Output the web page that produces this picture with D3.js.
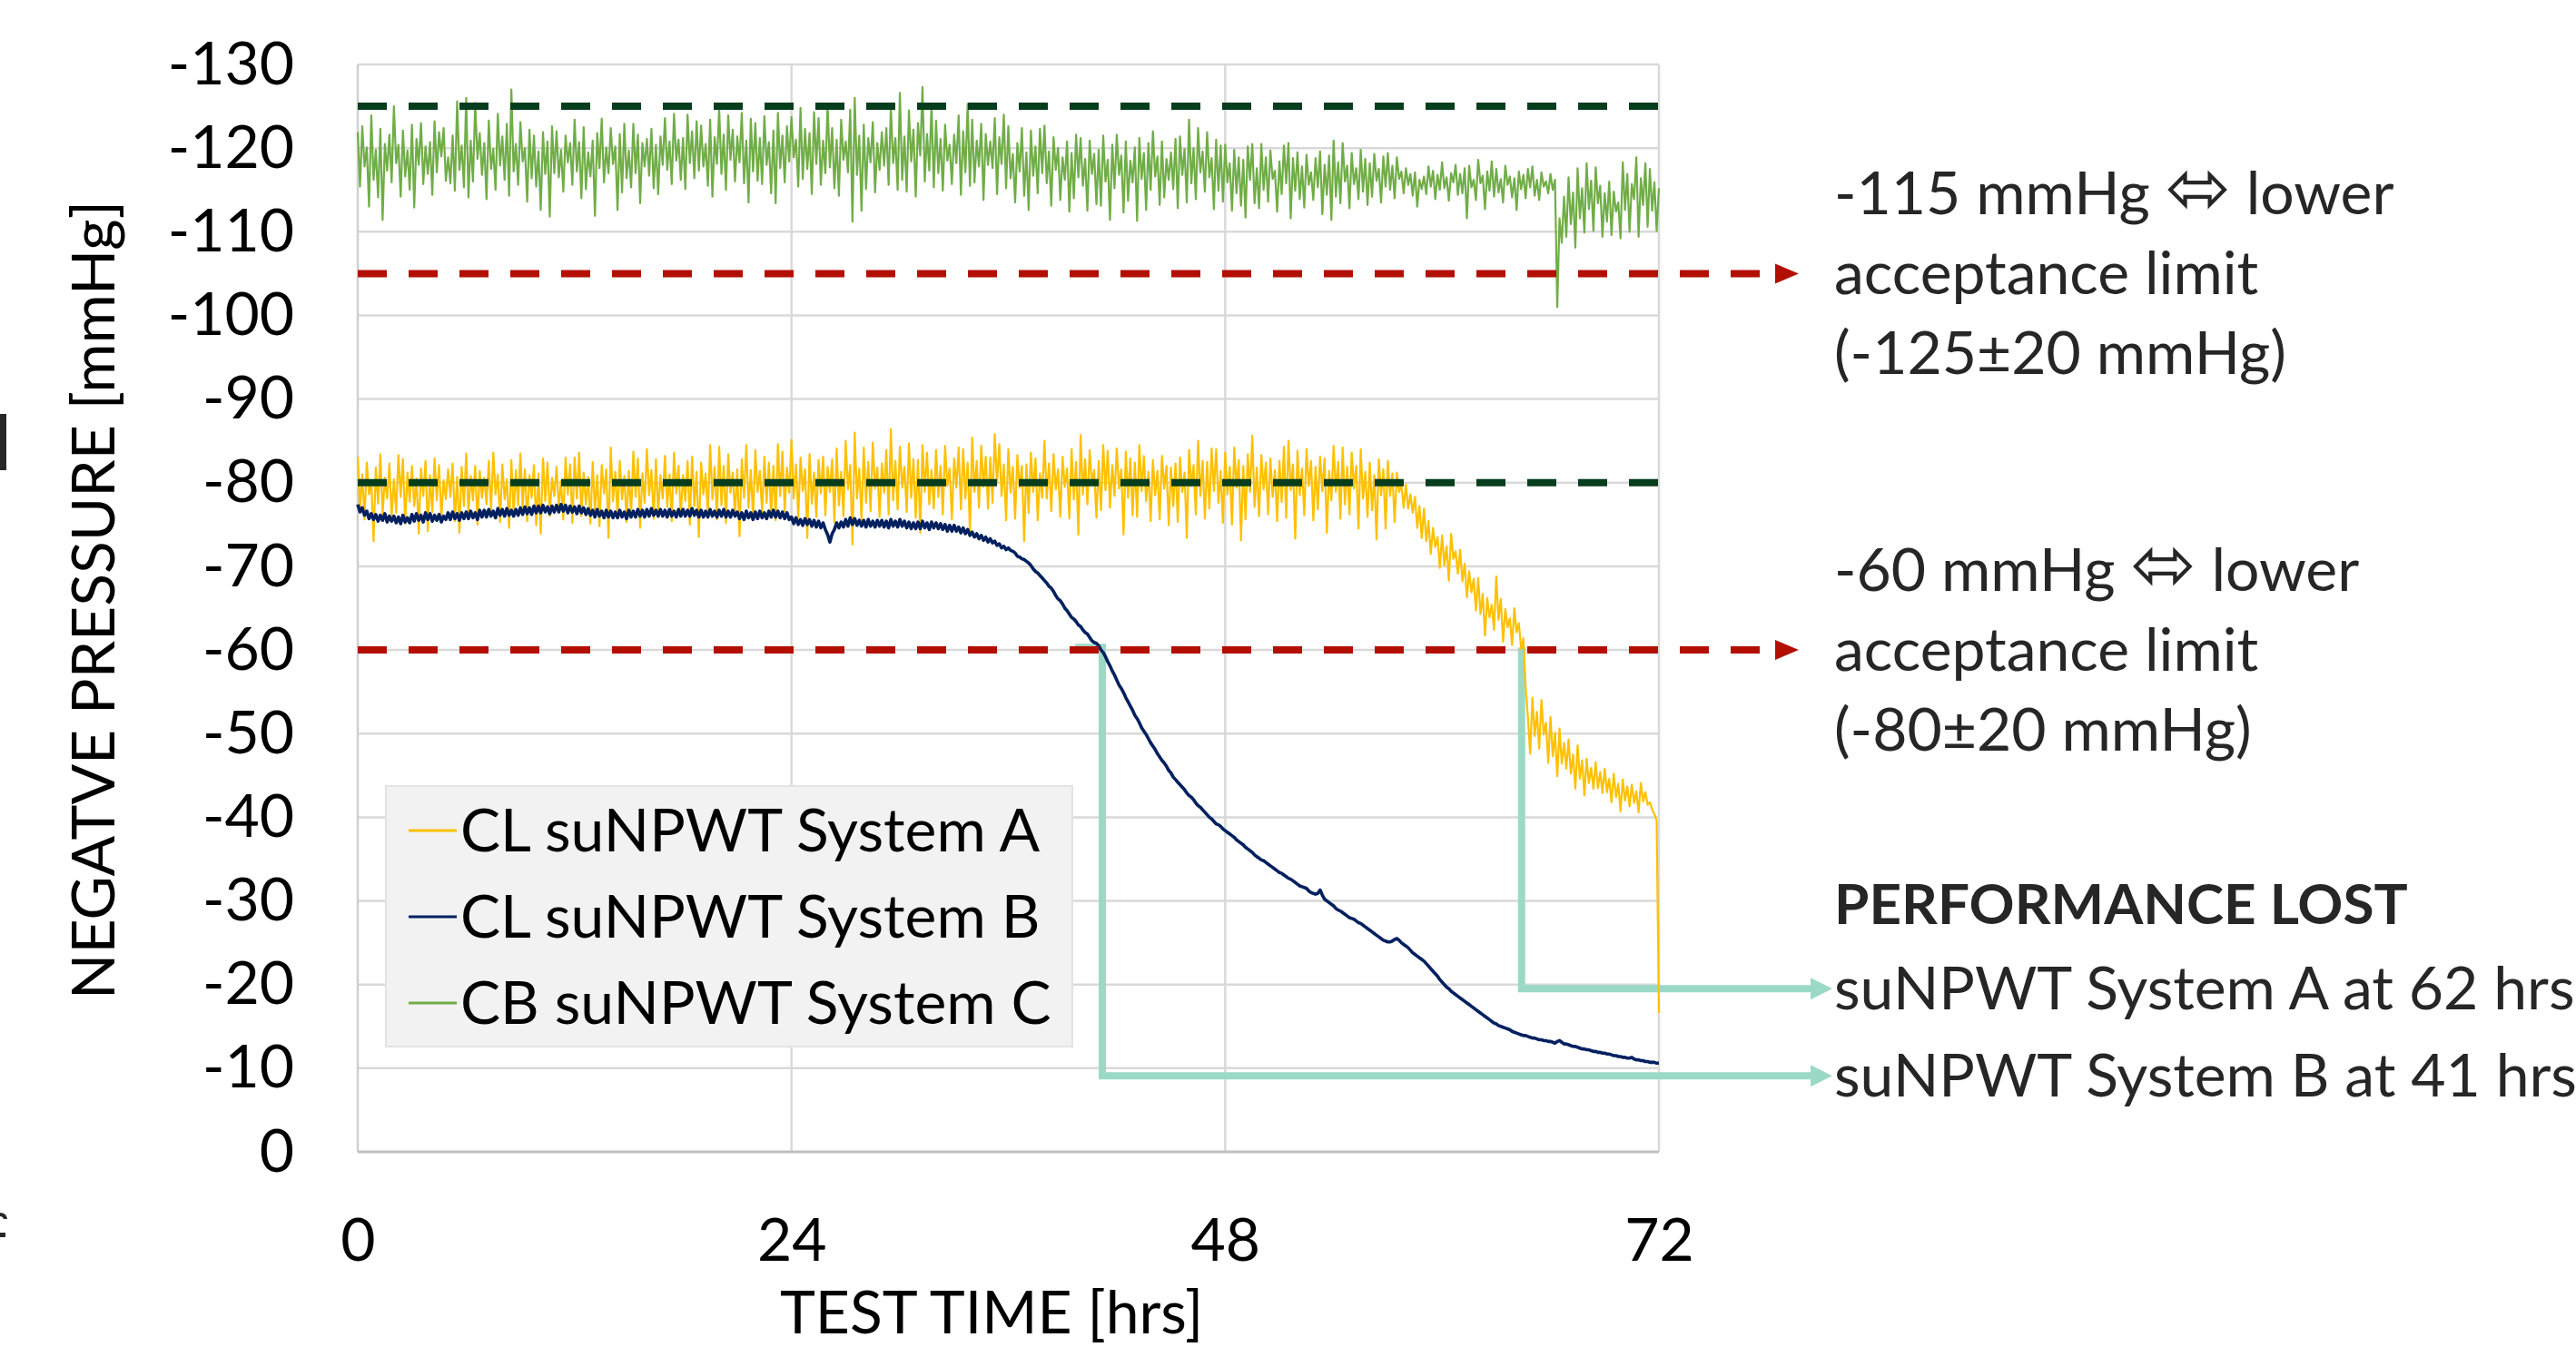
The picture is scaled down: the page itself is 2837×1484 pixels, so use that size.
<!DOCTYPE html>
<html lang="en">
<head>
<meta charset="UTF-8" />
<title>Negative pressure over test time</title>
<style>
  html, body { margin: 0; padding: 0; background: #fff; }
  svg { display: block; font-family: Lato, "Noto Sans", sans-serif; }
</style>
</head>
<body>
<div id="chart"></div>
<script src="https://cdn.jsdelivr.net/npm/d3@7"></script>
<script>
const width = 2837;
const height = 1484;

// logger interval of the three traces, in hours
const stepHours = 0.125;

const xTicks = [0, 24, 48, 72];
const yTicks = [0, -10, -20, -30, -40, -50, -60, -70, -80, -90, -100, -110, -120, -130];

const seriesNames = ["CL suNPWT System A", "CL suNPWT System B", "CB suNPWT System C"];

// set points (dark green) and lower acceptance limits (red), mmHg
const setPoints = [-125, -80];
const lowerLimits = [-105, -60];

// CL suNPWT System A, mmHg, one value every stepHours from 0 to 72 h (one row per hour)
const systemA = [
  -83.1,-76.9,-81.0,-75.6,-82.4,-78.6,-80.2,-73.0,
  -81.8,-77.5,-83.4,-76.2,-80.6,-78.1,-82.3,-75.9,
  -80.4,-76.4,-83.3,-78.3,-82.8,-75.1,-81.2,-77.7,
  -82.0,-77.2,-80.5,-73.9,-81.7,-78.4,-82.6,-74.2,
  -80.9,-76.5,-82.9,-77.9,-82.1,-75.8,-80.3,-78.0,
  -81.6,-78.3,-82.3,-75.4,-80.7,-74.0,-81.9,-77.2,
  -83.5,-76.3,-80.8,-77.9,-82.0,-75.0,-81.4,-78.2,
  -80.6,-77.4,-82.6,-76.7,-83.6,-78.6,-81.0,-75.3,
  -82.2,-78.0,-80.4,-74.6,-82.7,-76.1,-81.5,-77.3,
  -83.5,-77.1,-81.6,-75.4,-80.9,-78.2,-82.1,-74.9,
  -81.1,-73.9,-82.9,-77.8,-82.4,-76.0,-80.6,-78.4,
  -81.9,-77.0,-80.2,-75.6,-83.0,-78.6,-82.2,-75.2,
  -83.0,-78.1,-83.6,-76.0,-81.2,-77.4,-80.7,-75.1,
  -82.5,-76.6,-80.9,-74.8,-82.1,-78.7,-81.6,-73.4,
  -84.2,-77.8,-81.3,-75.9,-82.6,-78.0,-80.8,-75.3,
  -81.4,-76.1,-83.7,-78.3,-82.9,-74.6,-81.1,-77.6,
  -84.0,-78.5,-81.5,-75.7,-82.8,-76.3,-80.9,-78.1,
  -83.2,-77.1,-81.0,-75.4,-83.6,-78.7,-82.0,-76.0,
  -80.9,-77.8,-82.6,-75.0,-83.1,-77.2,-81.3,-73.5,
  -82.4,-78.6,-81.1,-76.2,-84.5,-78.0,-81.9,-75.6,
  -84.3,-77.3,-82.0,-75.2,-83.4,-78.8,-81.2,-76.0,
  -81.6,-73.6,-82.8,-78.2,-84.5,-77.0,-81.5,-75.7,
  -83.9,-78.9,-81.4,-76.4,-83.1,-77.6,-82.4,-75.9,
  -82.0,-75.5,-84.6,-78.4,-83.7,-76.6,-81.8,-78.8,
  -85.1,-78.1,-82.2,-75.8,-83.0,-79.0,-81.6,-73.4,
  -83.4,-77.5,-81.2,-75.9,-82.7,-78.7,-83.1,-76.1,
  -81.9,-78.9,-82.8,-75.3,-84.1,-77.3,-81.3,-76.0,
  -85.0,-79.2,-82.1,-72.6,-86.0,-78.1,-81.7,-75.5,
  -84.2,-77.6,-82.5,-76.6,-84.8,-79.3,-81.8,-75.9,
  -82.3,-78.8,-83.9,-76.2,-86.4,-77.9,-82.6,-76.8,
  -84.3,-79.4,-81.9,-76.5,-84.7,-78.2,-82.8,-75.8,
  -82.7,-74.0,-84.5,-78.9,-83.6,-77.4,-81.5,-76.9,
  -83.9,-78.3,-82.0,-76.2,-84.4,-79.6,-81.7,-75.6,
  -82.9,-79.4,-84.2,-76.8,-84.0,-78.1,-82.4,-74.0,
  -85.4,-78.9,-82.6,-77.0,-84.4,-79.5,-83.1,-76.9,
  -83.0,-77.6,-85.8,-79.9,-84.6,-78.4,-82.2,-75.5,
  -84.0,-78.8,-81.9,-75.7,-83.3,-79.4,-82.0,-73.0,
  -82.2,-76.4,-83.6,-78.9,-82.9,-75.5,-81.1,-78.2,
  -85.0,-78.1,-82.3,-76.6,-83.4,-79.2,-81.6,-75.9,
  -83.1,-79.5,-81.7,-75.7,-84.0,-78.0,-82.5,-73.8,
  -85.7,-78.6,-82.8,-77.4,-83.9,-79.8,-81.5,-75.8,
  -82.6,-76.7,-84.5,-79.1,-83.8,-77.0,-82.1,-78.4,
  -84.1,-79.3,-81.6,-73.8,-83.7,-78.2,-82.9,-76.1,
  -82.4,-75.9,-84.5,-79.0,-83.2,-77.8,-81.3,-75.4,
  -82.7,-78.5,-81.4,-75.6,-83.2,-79.3,-82.0,-74.9,
  -81.8,-77.2,-82.3,-75.3,-83.0,-78.9,-81.2,-73.4,
  -83.9,-79.6,-82.1,-76.2,-85.0,-78.4,-82.6,-75.7,
  -82.5,-76.9,-84.1,-79.0,-84.0,-77.6,-81.4,-75.2,
  -83.6,-78.6,-81.9,-75.0,-84.2,-79.4,-82.7,-73.1,
  -82.0,-75.6,-83.4,-78.9,-85.6,-77.1,-81.8,-76.0,
  -83.3,-79.2,-82.4,-76.2,-82.9,-78.3,-81.5,-75.4,
  -82.6,-77.7,-84.3,-75.8,-85.0,-79.1,-82.2,-73.3,
  -83.8,-78.5,-81.7,-76.1,-84.0,-79.6,-82.6,-75.5,
  -81.9,-76.8,-83.1,-79.0,-82.9,-74.0,-81.4,-77.9,
  -84.4,-78.9,-82.5,-75.7,-84.2,-77.4,-81.9,-76.2,
  -83.6,-79.3,-82.0,-74.5,-84.0,-78.1,-81.3,-75.9,
  -82.4,-76.7,-80.9,-73.2,-82.8,-78.5,-81.6,-74.5,
  -82.6,-78.4,-81.1,-75.3,-81.2,-78.9,-79.7,-77.0,
  -79.8,-76.9,-78.6,-76.4,-78.3,-74.6,-77.2,-73.4,
  -76.9,-73.0,-75.4,-71.5,-74.6,-72.3,-73.5,-69.8,
  -73.7,-70.1,-72.4,-68.3,-73.9,-70.9,-71.8,-69.1,
  -72.0,-68.2,-70.3,-66.3,-69.4,-66.9,-68.5,-64.7,
  -68.6,-64.3,-66.7,-61.7,-66.2,-63.9,-65.4,-62.4,
  -68.8,-63.6,-66.1,-61.0,-64.9,-62.7,-63.8,-60.6,
  -65.0,-62.1,-63.2,-60.1,-61.4,-55.6,-52.0,-47.6,
  -54.3,-49.7,-52.6,-48.2,-54.0,-49.9,-51.3,-46.5,
  -52.0,-47.3,-50.1,-44.9,-50.6,-46.4,-48.9,-45.8,
  -49.3,-45.2,-47.5,-43.4,-48.6,-44.6,-46.8,-42.6,
  -47.0,-44.1,-45.9,-43.4,-46.6,-43.5,-45.4,-42.9,
  -45.8,-43.0,-44.6,-41.8,-45.2,-42.4,-44.0,-40.7,
  -44.5,-42.0,-43.7,-41.3,-43.9,-41.7,-43.1,-40.6,
  -44.1,-41.9,-43.0,-41.5,-41.8,-40.9,-40.4,-39.6,
  -16.6
];

// CL suNPWT System B
const systemB = [
  -77.4,-76.5,-77.0,-76.1,-76.6,-75.7,-76.3,-75.6,
  -76.2,-75.4,-76.1,-75.5,-76.3,-75.3,-76.0,-75.4,
  -76.0,-75.2,-75.9,-75.1,-76.1,-75.3,-75.8,-75.2,
  -76.2,-75.4,-76.3,-75.5,-76.1,-75.3,-76.4,-75.6,
  -76.3,-75.4,-76.1,-75.5,-76.2,-75.3,-76.0,-75.6,
  -76.4,-75.6,-76.5,-75.7,-76.3,-75.5,-76.4,-75.7,
  -76.5,-75.7,-76.6,-75.8,-76.4,-75.6,-76.7,-75.9,
  -76.7,-75.9,-76.8,-76.0,-76.6,-75.8,-76.9,-76.1,
  -76.8,-76.0,-76.9,-76.1,-76.7,-76.0,-76.8,-76.1,
  -77.0,-76.2,-77.1,-76.3,-77.0,-76.2,-77.2,-76.4,
  -77.2,-76.4,-77.3,-76.5,-77.1,-76.3,-77.2,-76.5,
  -77.3,-76.5,-77.4,-76.6,-77.3,-76.4,-77.2,-76.5,
  -77.1,-76.3,-77.2,-76.4,-77.0,-76.2,-76.9,-76.1,
  -76.7,-75.9,-76.8,-76.0,-76.6,-75.8,-76.7,-75.9,
  -76.6,-75.8,-76.5,-75.8,-76.7,-75.9,-76.5,-75.7,
  -76.7,-75.9,-76.6,-75.9,-76.8,-76.0,-76.7,-75.9,
  -76.8,-76.0,-76.9,-76.1,-76.7,-76.0,-76.8,-76.0,
  -76.7,-75.9,-76.8,-76.0,-76.6,-75.9,-76.8,-76.0,
  -76.8,-76.0,-76.7,-76.0,-76.9,-76.1,-76.7,-75.9,
  -76.7,-75.9,-76.6,-75.9,-76.8,-76.0,-76.6,-75.9,
  -76.7,-76.0,-76.8,-75.9,-76.6,-75.9,-76.7,-76.0,
  -76.5,-75.7,-76.4,-75.6,-76.6,-75.8,-76.4,-75.6,
  -76.5,-75.7,-76.6,-75.8,-76.4,-75.7,-76.6,-75.9,
  -76.7,-75.9,-76.6,-75.8,-76.5,-75.7,-76.4,-75.6,
  -75.9,-75.1,-75.8,-75.0,-75.6,-74.9,-75.7,-75.0,
  -75.6,-74.8,-75.5,-74.7,-75.4,-74.6,-75.2,-74.4,
  -73.8,-72.9,-73.9,-74.4,-75.2,-74.6,-75.3,-74.7,
  -75.6,-74.8,-75.8,-75.0,-75.7,-74.9,-75.5,-74.8,
  -75.5,-74.7,-75.6,-74.8,-75.4,-74.7,-75.5,-74.8,
  -75.5,-74.7,-75.4,-74.6,-75.6,-74.8,-75.4,-74.7,
  -75.6,-74.8,-75.4,-74.6,-75.3,-74.5,-75.2,-74.5,
  -75.3,-74.5,-75.4,-74.6,-75.2,-74.4,-75.3,-74.6,
  -75.2,-74.5,-75.1,-74.4,-75.0,-74.2,-74.9,-74.2,
  -74.9,-74.2,-74.7,-74.0,-74.6,-73.9,-74.4,-73.7,
  -74.1,-73.5,-73.9,-73.3,-73.7,-73.1,-73.5,-72.9,
  -73.3,-72.8,-73.0,-72.5,-72.7,-72.2,-72.4,-72.0,
  -72.2,-71.9,-71.8,-71.6,-71.2,-71.1,-70.9,-70.8,
  -70.6,-70.4,-70.1,-69.7,-69.4,-69.2,-68.9,-68.6,
  -68.3,-68.0,-67.6,-67.4,-67.0,-66.5,-66.1,-65.9,
  -65.5,-65.0,-64.7,-64.3,-63.9,-63.7,-63.4,-63.0,
  -62.8,-62.4,-62.1,-61.9,-61.5,-61.1,-60.9,-60.8,
  -60.5,-60.0,-59.7,-59.2,-58.6,-58.1,-57.5,-57.0,
  -56.4,-55.8,-55.4,-54.9,-54.3,-53.8,-53.3,-52.8,
  -52.2,-51.8,-51.3,-50.7,-50.3,-49.9,-49.4,-48.9,
  -48.5,-48.1,-47.6,-47.2,-46.8,-46.5,-46.1,-45.6,
  -45.3,-44.8,-44.5,-44.2,-43.9,-43.6,-43.3,-42.9,
  -42.6,-42.4,-42.1,-41.7,-41.4,-41.2,-40.9,-40.6,
  -40.3,-40.0,-39.8,-39.5,-39.2,-39.1,-38.9,-38.6,
  -38.4,-38.2,-38.0,-37.8,-37.6,-37.3,-37.1,-36.9,
  -36.7,-36.4,-36.2,-36.0,-35.8,-35.5,-35.3,-35.1,
  -34.9,-34.8,-34.6,-34.4,-34.2,-34.0,-33.8,-33.6,
  -33.4,-33.3,-33.1,-32.9,-32.7,-32.6,-32.4,-32.2,
  -32.0,-31.8,-31.7,-31.6,-31.5,-31.2,-31.0,-30.9,
  -30.8,-30.9,-31.3,-30.7,-30.2,-30.0,-29.8,-29.6,
  -29.4,-29.1,-28.9,-28.8,-28.6,-28.4,-28.2,-28.0,
  -27.9,-27.8,-27.6,-27.4,-27.3,-27.1,-26.9,-26.7,
  -26.5,-26.3,-26.1,-25.9,-25.7,-25.5,-25.3,-25.2,
  -25.1,-25.1,-25.2,-25.4,-25.5,-25.3,-25.0,-24.8,
  -24.6,-24.4,-24.1,-23.8,-23.6,-23.4,-23.2,-23.0,
  -22.8,-22.5,-22.2,-21.9,-21.6,-21.3,-21.0,-20.6,
  -20.3,-20.0,-19.7,-19.5,-19.2,-19.0,-18.8,-18.6,
  -18.4,-18.2,-18.0,-17.8,-17.6,-17.4,-17.2,-17.0,
  -16.8,-16.6,-16.4,-16.2,-16.0,-15.8,-15.6,-15.4,
  -15.3,-15.1,-15.0,-14.9,-14.8,-14.7,-14.6,-14.4,
  -14.3,-14.2,-14.1,-14.0,-13.9,-13.9,-13.8,-13.7,
  -13.6,-13.6,-13.5,-13.4,-13.4,-13.3,-13.3,-13.2,
  -13.2,-13.1,-13.0,-13.2,-13.3,-13.1,-12.9,-12.9,
  -12.8,-12.7,-12.6,-12.6,-12.5,-12.4,-12.3,-12.3,
  -12.2,-12.2,-12.1,-12.0,-12.0,-11.9,-11.9,-11.8,
  -11.8,-11.7,-11.7,-11.6,-11.5,-11.5,-11.4,-11.4,
  -11.3,-11.3,-11.2,-11.2,-11.3,-11.1,-11.0,-11.0,
  -10.9,-10.9,-10.8,-10.8,-10.7,-10.7,-10.7,-10.6,
  -10.6
];

// CB suNPWT System C
const systemC = [
  -121.9,-115.4,-122.6,-117.8,-120.1,-113.0,-123.9,-116.2,
  -119.8,-114.1,-122.3,-111.4,-120.5,-117.3,-121.6,-115.9,
  -125.0,-118.2,-120.4,-114.2,-122.1,-116.6,-119.7,-115.0,
  -122.8,-112.9,-121.1,-118.0,-123.0,-115.7,-120.2,-116.9,
  -120.7,-114.4,-123.2,-117.1,-121.9,-119.0,-122.4,-116.1,
  -118.9,-115.8,-121.5,-114.9,-125.6,-117.4,-120.3,-115.3,
  -126.0,-114.1,-120.9,-116.0,-125.4,-118.7,-121.8,-116.8,
  -120.6,-113.9,-123.3,-117.5,-119.9,-115.0,-124.1,-117.9,
  -121.4,-116.2,-122.9,-114.3,-127.0,-117.2,-120.5,-115.6,
  -123.1,-118.4,-120.0,-113.6,-122.2,-116.4,-121.5,-115.4,
  -119.6,-112.6,-121.9,-116.9,-120.8,-111.8,-122.6,-117.0,
  -122.0,-116.5,-119.8,-114.8,-121.5,-118.3,-120.6,-115.6,
  -123.4,-117.2,-120.7,-114.0,-122.5,-115.1,-119.5,-116.6,
  -120.9,-111.9,-121.8,-117.6,-123.5,-115.9,-120.1,-117.0,
  -122.4,-118.1,-120.2,-112.6,-121.7,-114.7,-122.9,-116.4,
  -119.7,-115.3,-122.9,-117.0,-121.6,-113.4,-120.6,-117.8,
  -121.1,-116.7,-122.3,-115.2,-120.4,-114.5,-121.4,-118.0,
  -123.6,-117.4,-120.8,-115.7,-124.1,-118.5,-121.0,-116.2,
  -121.2,-115.1,-124.0,-118.2,-122.0,-116.4,-123.2,-117.3,
  -122.7,-117.8,-120.5,-115.5,-123.4,-114.2,-121.3,-118.1,
  -124.7,-116.9,-121.6,-115.0,-123.9,-118.6,-122.2,-116.0,
  -121.4,-118.3,-124.2,-115.8,-120.9,-113.5,-123.5,-117.2,
  -123.0,-116.1,-121.2,-115.7,-123.8,-118.0,-120.7,-114.6,
  -122.1,-113.4,-124.2,-117.6,-121.5,-115.9,-122.6,-118.4,
  -123.7,-118.9,-121.0,-115.4,-124.8,-116.3,-122.3,-117.5,
  -121.8,-114.5,-124.3,-118.1,-123.6,-115.6,-120.9,-117.0,
  -125.1,-117.7,-122.4,-115.2,-121.0,-114.3,-123.4,-118.6,
  -120.8,-117.1,-124.6,-111.2,-126.0,-116.8,-121.5,-112.5,
  -122.8,-115.1,-121.2,-118.3,-123.1,-114.7,-120.6,-117.4,
  -121.9,-117.9,-122.4,-115.6,-124.9,-118.2,-121.2,-115.0,
  -126.6,-116.2,-121.4,-114.8,-124.5,-118.4,-122.2,-114.2,
  -123.0,-119.1,-127.3,-116.0,-121.7,-117.3,-125.2,-115.3,
  -123.3,-117.0,-121.1,-114.9,-122.8,-118.5,-120.4,-115.7,
  -121.6,-118.2,-123.9,-114.4,-122.0,-117.1,-125.3,-115.5,
  -123.4,-115.9,-120.9,-117.8,-122.9,-113.8,-121.7,-118.0,
  -120.8,-117.6,-123.6,-114.5,-121.3,-118.1,-124.0,-115.2,
  -122.6,-116.4,-119.3,-113.5,-120.6,-117.2,-122.4,-114.3,
  -119.5,-112.6,-122.1,-116.7,-120.2,-114.6,-122.3,-117.0,
  -122.7,-115.8,-119.6,-113.1,-121.3,-117.4,-120.0,-113.8,
  -118.9,-116.2,-120.8,-112.4,-119.4,-114.0,-121.6,-116.5,
  -121.2,-115.5,-118.7,-112.5,-120.9,-116.9,-119.3,-113.3,
  -119.8,-113.1,-121.5,-116.0,-118.6,-111.4,-120.4,-115.2,
  -121.6,-116.8,-119.1,-112.3,-120.8,-113.7,-118.5,-115.9,
  -120.1,-111.3,-121.2,-116.3,-119.4,-112.6,-120.6,-115.0,
  -122.0,-116.6,-119.0,-113.2,-120.8,-114.1,-118.7,-116.2,
  -119.5,-115.1,-121.1,-112.8,-121.4,-116.8,-119.9,-113.5,
  -123.4,-115.8,-120.0,-113.9,-122.4,-117.1,-119.6,-114.8,
  -121.9,-116.5,-118.8,-112.7,-121.0,-114.9,-120.3,-113.6,
  -120.4,-115.9,-118.2,-112.5,-119.8,-114.6,-118.9,-113.1,
  -118.6,-111.7,-120.2,-116.2,-120.5,-113.4,-117.6,-112.8,
  -120.5,-115.0,-118.9,-113.6,-119.7,-116.3,-117.3,-112.4,
  -118.4,-114.5,-120.3,-115.8,-120.6,-111.6,-118.8,-114.9,
  -119.5,-113.9,-117.8,-112.9,-119.2,-115.6,-117.1,-113.8,
  -118.8,-115.3,-119.6,-112.1,-118.0,-114.4,-119.1,-111.4,
  -120.9,-114.2,-118.3,-113.4,-120.6,-116.0,-117.9,-112.8,
  -119.4,-115.7,-117.6,-113.9,-119.8,-114.8,-118.7,-113.2,
  -118.2,-114.2,-119.3,-116.1,-117.5,-113.5,-119.0,-115.4,
  -119.4,-115.0,-117.9,-114.0,-118.9,-116.3,-117.2,-114.6,
  -117.6,-115.6,-116.9,-114.3,-117.1,-113.0,-116.2,-115.1,
  -116.6,-114.5,-117.8,-115.4,-117.3,-113.9,-116.8,-115.0,
  -118.3,-115.2,-116.5,-113.7,-117.0,-115.9,-118.0,-114.4,
  -116.9,-114.6,-117.6,-111.6,-117.9,-115.3,-116.2,-113.8,
  -118.6,-115.8,-116.7,-112.7,-117.2,-114.9,-118.4,-114.2,
  -117.5,-114.7,-116.3,-113.5,-117.9,-115.6,-116.6,-114.1,
  -116.4,-112.6,-117.2,-115.1,-116.8,-114.0,-117.5,-115.3,
  -117.8,-114.3,-116.2,-113.8,-117.1,-115.4,-116.0,-114.6,
  -116.9,-115.0,-116.2,-101.0,-111.6,-108.7,-114.2,-109.4,
  -116.5,-110.9,-114.7,-108.1,-117.6,-111.6,-115.2,-109.9,
  -118.2,-112.7,-116.1,-110.1,-117.7,-113.4,-115.5,-109.4,
  -114.6,-111.2,-116.0,-109.6,-114.8,-112.4,-113.5,-109.2,
  -118.3,-112.6,-116.9,-110.0,-115.7,-113.9,-118.9,-109.4,
  -116.4,-113.2,-118.2,-110.6,-117.5,-112.5,-115.9,-110.1,
  -115.2
];

// where the A and B traces drop through -60 mmHg (connector corners), hours
const lossStart = [64.4, 39.7];
const lossHours = [64.4, 41.2];
const lossRunLevel = [-19.5, -9.1];

const limitNotes = [
  ["-115 mmHg ", "\u2B04", " lower", "acceptance limit", "(-125\u00B120 mmHg)"],
  ["-60 mmHg ", "\u2B04", " lower", "acceptance limit", "(-80\u00B120 mmHg)"]
];
const lossTitle = "PERFORMANCE LOST";
const lossNotes = ["suNPWT System A at 62 hrs", "suNPWT System B at 41 hrs"];

const colors = { A: "#ffc000", B: "#002060", C: "#70ad47" };

const svg = d3.select("#chart")
  .append("svg")
  .attr("width", width)
  .attr("height", height);

const x = d3.scaleLinear().domain([0, 72]).range([394, 1827]);
const y = d3.scaleLinear().domain([0, -130]).range([1269, 71]);

const fontSize = 66;

// grid
svg.append("g")
  .selectAll("line")
  .data(yTicks.filter(d => d !== 0))
  .join("line")
  .attr("x1", x(0)).attr("x2", x(72))
  .attr("y1", d => y(d)).attr("y2", d => y(d))
  .attr("stroke", "#d9d9d9").attr("stroke-width", 2.5);

svg.append("g")
  .selectAll("line")
  .data(xTicks.filter(d => d !== 0))
  .join("line")
  .attr("x1", d => x(d)).attr("x2", d => x(d))
  .attr("y1", y(0)).attr("y2", y(-130))
  .attr("stroke", "#d9d9d9").attr("stroke-width", 2.5);

svg.append("line")
  .attr("x1", x(0)).attr("x2", x(0))
  .attr("y1", y(0)).attr("y2", y(-130))
  .attr("stroke", "#d0d0d0").attr("stroke-width", 2.5);

svg.append("line")
  .attr("x1", x(0)).attr("x2", x(72))
  .attr("y1", y(0)).attr("y2", y(0))
  .attr("stroke", "#bfbfbf").attr("stroke-width", 3);

// axes labels
const yAxis = svg.append("g")
  .attr("transform", `translate(${x(0)},0)`)
  .call(d3.axisLeft(y).tickValues(yTicks).tickSize(0).tickPadding(70).tickFormat(d => String(d)));
yAxis.select(".domain").remove();

const xAxis = svg.append("g")
  .attr("transform", `translate(0,${y(0)})`)
  .call(d3.axisBottom(x).tickValues(xTicks).tickSize(0).tickPadding(73).tickFormat(d => String(d)));
xAxis.select(".domain").remove();

svg.selectAll(".tick text")
  .attr("font-family", "Lato, sans-serif")
  .attr("font-size", fontSize)
  .attr("fill", "#000");

svg.append("text")
  .attr("transform", "translate(126,661) rotate(-90)")
  .attr("text-anchor", "middle")
  .attr("font-size", fontSize)
  .attr("fill", "#000")
  .text("NEGATVE PRESSURE [mmHg]");

svg.append("text")
  .attr("x", 1092)
  .attr("y", 1469)
  .attr("text-anchor", "middle")
  .attr("font-size", fontSize)
  .attr("fill", "#000")
  .text("TEST TIME [hrs]");

// connectors from the -60 mmHg crossing to the notes
const arrowBase = 1994;
const teal = "#9bd9c7";
svg.append("g")
  .selectAll("path")
  .data(lossHours)
  .join("path")
  .attr("d", (h, i) => `M${x(lossStart[i])},${y(-60.3)}H${x(h)}V${y(lossRunLevel[i])}H${arrowBase + 2}`)
  .attr("fill", "none")
  .attr("stroke", teal)
  .attr("stroke-width", 8);

svg.append("g")
  .selectAll("path")
  .data(lossRunLevel)
  .join("path")
  .attr("d", v => `M${arrowBase},${y(v) - 12}L${arrowBase + 24},${y(v)}L${arrowBase},${y(v) + 12}Z`)
  .attr("fill", teal);

// traces
const line = d3.line()
  .x((d, i) => x(i * stepHours))
  .y(d => y(d));

svg.append("path").datum(systemA)
  .attr("d", line).attr("fill", "none")
  .attr("stroke", colors.A).attr("stroke-width", 2.2).attr("stroke-linejoin", "round");

svg.append("path").datum(systemC)
  .attr("d", line).attr("fill", "none")
  .attr("stroke", colors.C).attr("stroke-width", 2.2).attr("stroke-linejoin", "round");

svg.append("path").datum(systemB)
  .attr("d", line).attr("fill", "none")
  .attr("stroke", colors.B).attr("stroke-width", 3.6).attr("stroke-linejoin", "round");

// set points and limits
svg.append("g")
  .selectAll("line")
  .data(setPoints)
  .join("line")
  .attr("x1", x(0)).attr("x2", x(72))
  .attr("y1", d => y(d)).attr("y2", d => y(d))
  .attr("stroke", "#063d1d").attr("stroke-width", 8)
  .attr("stroke-dasharray", "32,24");

const redArrow = 1955;
svg.append("g")
  .selectAll("line")
  .data(lowerLimits)
  .join("line")
  .attr("x1", x(0)).attr("x2", redArrow)
  .attr("y1", d => y(d)).attr("y2", d => y(d))
  .attr("stroke", "#b30f00").attr("stroke-width", 8)
  .attr("stroke-dasharray", "32,24");

svg.append("g")
  .selectAll("path")
  .data(lowerLimits)
  .join("path")
  .attr("d", v => `M${redArrow},${y(v) - 11}L${redArrow + 26},${y(v)}L${redArrow},${y(v) + 11}Z`)
  .attr("fill", "#b30f00");

// legend
const legend = svg.append("g");
legend.append("rect")
  .attr("x", 425).attr("y", 866)
  .attr("width", 756).attr("height", 287)
  .attr("fill", "#f2f2f2").attr("stroke", "#e3e3e3").attr("stroke-width", 2);

const legendColors = [colors.A, colors.B, colors.C];
const entry = legend.selectAll("g")
  .data(seriesNames)
  .join("g")
  .attr("transform", (d, i) => `translate(0,${915 + i * 95})`);
entry.append("line")
  .attr("x1", 450).attr("x2", 503)
  .attr("stroke", (d, i) => legendColors[i]).attr("stroke-width", 3);
entry.append("text")
  .attr("x", 507)
  .attr("dy", "0.35em")
  .attr("font-size", fontSize)
  .attr("fill", "#000")
  .text(d => d);

// notes on the right
const noteX = 2020;
const notes = svg.append("g").attr("fill", "#262626").attr("font-size", fontSize);
limitNotes.forEach((parts, k) => {
  const yc = y(lowerLimits[k]);
  const first = notes.append("text").attr("x", noteX).attr("y", yc - 88).attr("dy", "0.35em");
  first.append("tspan").text(parts[0]);
  first.append("tspan")
    .attr("font-family", "DejaVu Sans, sans-serif")
    .attr("font-size", 86)
    .text(parts[1]);
  first.append("tspan").text(parts[2]);
  notes.append("text").attr("x", noteX).attr("y", yc).attr("dy", "0.35em").text(parts[3]);
  notes.append("text").attr("x", noteX).attr("y", yc + 88).attr("dy", "0.35em").text(parts[4]);
});

notes.append("text")
  .attr("x", noteX)
  .attr("y", 1018)
  .attr("font-weight", 700)
  .attr("font-size", 62)
  .text(lossTitle);

notes.selectAll(".loss")
  .data(lossNotes)
  .join("text")
  .attr("class", "loss")
  .attr("x", noteX)
  .attr("y", (d, i) => y(lossRunLevel[i]))
  .attr("dy", "0.35em")
  .text(d => d);

// cropped bits of the neighbouring panel at the left edge
svg.append("rect").attr("x", 0).attr("y", 456).attr("width", 7).attr("height", 62).attr("fill", "#262626");
svg.append("path").attr("d", "M0,1336 q7,0 8,7 l-4,0 q-1,-3 -4,-3 z M0,1358 h6 v5 h-6 z").attr("fill", "#262626");
</script>
</body>
</html>
